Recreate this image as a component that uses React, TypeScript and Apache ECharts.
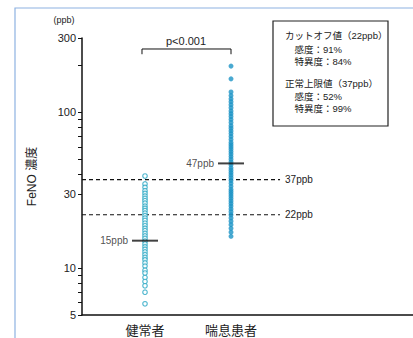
import React, { useEffect, useRef } from "react";
import * as echarts from "echarts";

const categories = ["健常者", "喘息患者"];
const categoryPositions = [1, 2];
const healthyValues = [
  39, 34.7, 33, 31.4, 30.2, 29, 28, 27.1, 26.1, 25, 24.2, 23.4, 22.5, 21.7, 20.9,
  20.2, 19.4, 18.7, 18, 17.4, 16.7, 16.1, 15.5, 14.9, 14.3, 13.7, 13.2, 12.7, 12.2,
  11.7, 11.3, 10.8, 10.3, 9.7, 9.3, 8.7, 8.2, 7.7, 7.0, 5.9,
];
const asthmaValues = [
  198, 164, 135, 128, 122, 117, 112, 107, 102, 98, 94, 90, 86, 82, 79, 76, 73, 70,
  67, 64, 62, 60, 58, 56, 54, 52, 50, 48, 46, 44, 42.5, 41, 39.5, 38, 36.5, 35,
  33.5, 32, 31, 30, 29, 28, 27, 26, 25, 24, 23, 22, 21, 20, 19, 18, 17, 16,
];
const medians = [15, 47];
const cutoffs = [37, 22];
const yTickValues = [5, 6, 7, 8, 9, 10, 30, 40, 50, 60, 70, 80, 90, 100, 200, 300];
const yLabelValues = [5, 10, 30, 100, 300];
const pBracketValues = [236, 255];
const pText = "p<0.001";
const yName = "FeNO 濃度";
const unitText = "(ppb)";
const boxLines = [
  "カットオフ値（22ppb）",
  "　感度：91%",
  "　特異度：84%",
  "",
  "正常上限値（37ppb）",
  "　感度：52%",
  "　特異度：99%",
];

const FONT = '"Liberation Sans", "Noto Sans CJK JP", sans-serif';
const L = (v: number) => Math.log10(v);

export default function App() {
  const ref = useRef<HTMLDivElement>(null);
  useEffect(() => {
    const chart = echarts.init(ref.current!, null, { renderer: "svg" });
    const xMin = 0.2674;
    const xMax = 4.116;
    const dashEnd = 2.57;
    const option: any = {
      animation: false,
      backgroundColor: "#fff",
      textStyle: { fontFamily: FONT },
      grid: { left: 82, right: 0, top: 38, bottom: 23, containLabel: false },
      xAxis: {
        type: "value",
        min: xMin,
        max: xMax,
        splitLine: { show: false },
        axisTick: { show: false },
        axisLine: { show: true, lineStyle: { color: "#111", width: 1.5 } },
        axisLabel: {
          customValues: categoryPositions,
          formatter: (v: number) => categories[categoryPositions.indexOf(Math.round(v))] ?? "",
          fontSize: 13,
          color: "#222",
          margin: 9,
          fontFamily: FONT,
        },
      },
      yAxis: {
        type: "value",
        min: L(5),
        max: L(300),
        name: yName,
        nameLocation: "middle",
        nameRotate: 90,
        nameGap: 44,
        nameTextStyle: { fontSize: 12, color: "#222", fontFamily: FONT },
        splitLine: { show: false },
        axisLine: { show: true, lineStyle: { color: "#111", width: 1.5 } },
        axisTick: {
          show: true,
          customValues: yTickValues.map(L),
          length: 4,
          lineStyle: { color: "#111", width: 1 },
        },
        axisLabel: {
          customValues: yLabelValues.map(L),
          formatter: (v: number) => String(Math.round(Math.pow(10, v))),
          fontSize: 11,
          color: "#222",
          margin: 6,
          fontFamily: FONT,
        },
      },
      series: [
        ...cutoffs.map((c) => ({
          type: "line",
          data: [
            [xMin, L(c)],
            [dashEnd, L(c)],
          ],
          symbol: "none",
          lineStyle: { color: "#111", width: 1.2, type: [4, 3] },
          endLabel: {
            show: true,
            formatter: `${c}ppb`,
            fontSize: 10,
            color: "#222",
            distance: 5,
            fontFamily: FONT,
          },
          z: 1,
        })),
        {
          type: "line",
          data: [
            [0.965, L(pBracketValues[0])],
            [0.965, L(pBracketValues[1])],
            [2, L(pBracketValues[1])],
            [2, L(pBracketValues[0])],
          ],
          symbol: "none",
          lineStyle: { color: "#111", width: 1 },
        },
        {
          type: "scatter",
          data: healthyValues.map((v) => [categoryPositions[0], L(v)]),
          symbol: "circle",
          symbolSize: 4.5,
          itemStyle: { color: "#fff", borderColor: "#2aa8c4", borderWidth: 1.2 },
          z: 3,
        },
        {
          type: "scatter",
          data: asthmaValues.map((v) => [categoryPositions[1], L(v)]),
          symbol: "circle",
          symbolSize: 5,
          itemStyle: { color: "#1c93c6" },
          z: 3,
        },
        {
          type: "scatter",
          data: medians.map((m, i) => [categoryPositions[i], L(m)]),
          symbol: "rect",
          symbolSize: [26, 2],
          itemStyle: { color: "#111" },
          label: {
            show: true,
            position: "left",
            distance: 4,
            formatter: (p: any) => `${medians[p.dataIndex]}ppb`,
            fontSize: 10,
            color: "#222",
            fontFamily: FONT,
          },
          z: 5,
        },
      ],
      graphic: [
        {
          type: "rect",
          shape: { x: 15, y: 8, width: 430, height: 360 },
          style: { fill: "none", stroke: "#8eb2e2", lineWidth: 1.2 },
          silent: true,
        },
        {
          type: "text",
          x: 64,
          y: 20,
          style: { text: unitText, fontSize: 9, fill: "#222", align: "center", verticalAlign: "middle", fontFamily: FONT },
        },
        {
          type: "text",
          x: 186,
          y: 41,
          style: { text: pText, fontSize: 11, fill: "#222", align: "center", verticalAlign: "middle", fontFamily: FONT },
        },
        {
          type: "rect",
          shape: { x: 273, y: 21, width: 115, height: 105 },
          style: { fill: "#fff", stroke: "#222", lineWidth: 1.2 },
        },
        ...boxLines.map((t, i) => ({
          type: "text",
          x: 285,
          y: [35, 49, 61, 72, 83, 96, 108][i],
          style: { text: t, fontSize: 9.5, fill: "#222", verticalAlign: "middle", fontFamily: FONT },
        })),
      ],
    };
    chart.setOption(option);
    return () => chart.dispose();
  }, []);
  return (
    <div
      ref={ref}
      style={{ position: "fixed", left: 0, top: 0, width: 413, height: 338 }}
    />
  );
}
